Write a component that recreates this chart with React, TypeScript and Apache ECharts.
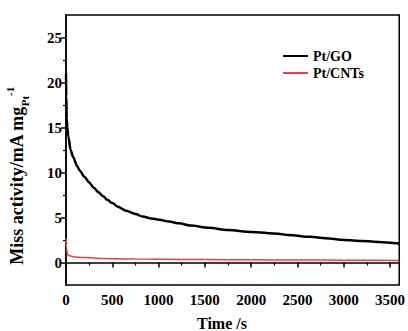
import React, { useEffect, useRef } from "react";
import * as echarts from "echarts";

const FONT = "'Liberation Serif', 'Times New Roman', serif";

const goTime = [0, 3, 8, 15, 25, 50, 78, 120, 150, 200, 250, 300, 350, 400, 450, 500, 560, 650, 750, 828, 920, 1006, 1113, 1220, 1350, 1542, 1750, 2000, 2291, 2400, 2645, 2800, 3005, 3200, 3330, 3500, 3600];
const goValue = [21.0, 18.5, 16.0, 15.0, 14.0, 12.5, 11.7, 10.7, 10.2, 9.5, 8.9, 8.3, 7.8, 7.35, 6.95, 6.6, 6.2, 5.75, 5.4, 5.1, 4.9, 4.75, 4.55, 4.35, 4.1, 3.85, 3.6, 3.4, 3.2, 3.05, 2.85, 2.7, 2.5, 2.4, 2.3, 2.2, 2.1];

const cntTime = [0, 5, 15, 40, 100, 200, 400, 700, 1000, 1500, 2000, 2500, 3000, 3600];
const cntValue = [2.7, 1.5, 0.9, 0.75, 0.6, 0.55, 0.45, 0.4, 0.35, 0.33, 0.3, 0.28, 0.25, 0.22];

const seriesNames = ["Pt/GO", "Pt/CNTs"];
const xMajor = [0, 500, 1000, 1500, 2000, 2500, 3000, 3500];
const xMinor = [250, 750, 1250, 1750, 2250, 2750, 3250];
const yMajor = [0, 5, 10, 15, 20, 25];
const yMinor = [2.5, 7.5, 12.5, 17.5, 22.5];

export default function App() {
  const ref = useRef<HTMLDivElement>(null);
  useEffect(() => {
    if (!ref.current) return;
    const chart = echarts.init(ref.current, null, { renderer: "svg" });
    const pair = (t: number[], v: number[]) => t.map((x, i) => [x, v[i]]);
    const axisLine = { show: true, lineStyle: { color: "#000", width: 1.5 } };
    const lbl = { color: "#000", fontFamily: FONT, fontWeight: "bold" as const, fontSize: 15, formatter: (v: number) => String(v) };
    chart.setOption({
      animation: false,
      backgroundColor: "#fff",
      grid: { left: 66, right: 6, top: 15, bottom: 46, show: true, borderColor: "#000", borderWidth: 1.5, containLabel: false },
      legend: {
        orient: "vertical",
        left: 278,
        top: 44,
        icon: "rect",
        itemWidth: 25,
        itemHeight: 2,
        itemGap: 3,
        data: seriesNames,
        textStyle: { color: "#000", fontFamily: FONT, fontWeight: "bold", fontSize: 14, padding: [0, 0, 0, 0] },
      },
      xAxis: [
        {
          type: "value", min: 0, max: 3600,
          axisLine, splitLine: { show: false },
          axisTick: { show: true, inside: false, length: 5, customValues: xMajor, lineStyle: { color: "#000", width: 1.5 } },
          axisLabel: { ...lbl, margin: 7, customValues: xMajor },
        },
        {
          type: "value", min: 0, max: 3600, position: "bottom",
          axisLine: { show: false }, splitLine: { show: false },
          axisTick: { show: true, inside: false, length: 3, customValues: xMinor, lineStyle: { color: "#000", width: 1.2 } },
          axisLabel: { show: false },
        },
      ],
      yAxis: [
        {
          type: "value", min: -2.5, max: 27.5,
          axisLine, splitLine: { show: false },
          axisTick: { show: true, inside: false, length: 5, customValues: yMajor, lineStyle: { color: "#000", width: 1.5 } },
          axisLabel: { ...lbl, margin: 4, customValues: yMajor },
        },
        {
          type: "value", min: -2.5, max: 27.5, position: "left",
          axisLine: { show: false }, splitLine: { show: false },
          axisTick: { show: true, inside: false, length: 3, customValues: yMinor, lineStyle: { color: "#000", width: 1.2 } },
          axisLabel: { show: false },
        },
      ],
      series: [
        {
          name: seriesNames[0], type: "line", symbol: "none", showSymbol: false,
          smooth: 0.3, smoothMonotone: "x",
          data: pair(goTime, goValue), color: "#000",
          lineStyle: { color: "#000", width: 2.5 },
        },
        {
          name: seriesNames[1], type: "line", symbol: "none", showSymbol: false,
          smooth: 0.3, smoothMonotone: "x",
          data: pair(cntTime, cntValue), color: "#e8404a",
          lineStyle: { color: "#e8404a", width: 1.5 },
        },
      ],
      graphic: [
        {
          type: "text", x: 222, y: 323,
          style: { text: "Time /s", fill: "#000", font: `bold 16px ${FONT}`, textAlign: "center", textVerticalAlign: "middle" },
        },
        {
          type: "text", x: 17, y: 176, rotation: Math.PI / 2,
          style: {
            text: "{a|Miss activity/mA mg}{b|Pt}{c|-1}",
            textAlign: "center", textVerticalAlign: "middle", fill: "#000",
            rich: {
              a: { fontFamily: FONT, fontWeight: "bold", fontSize: 18, lineHeight: 26, verticalAlign: "middle", fill: "#000" },
              b: { fontFamily: FONT, fontWeight: "bold", fontSize: 11, lineHeight: 11, verticalAlign: "bottom", fill: "#000" },
              c: { fontFamily: FONT, fontWeight: "bold", fontSize: 11, lineHeight: 11, verticalAlign: "top", fill: "#000" },
            },
          },
        },
      ],
    });
    return () => chart.dispose();
  }, []);
  return <div ref={ref} style={{ position: "fixed", left: 0, top: 0, width: 408, height: 331 }} />;
}
